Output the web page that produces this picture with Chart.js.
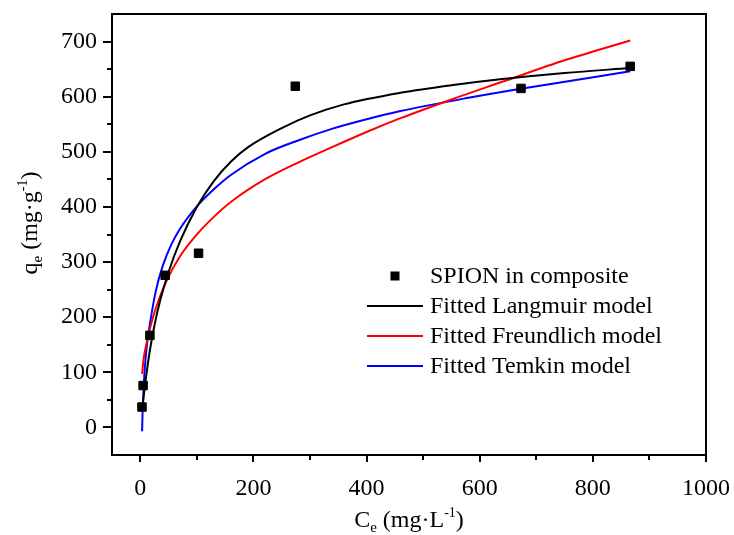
<!DOCTYPE html>
<html>
<head>
<meta charset="utf-8">
<script src="https://cdn.jsdelivr.net/npm/chart.js@4/dist/chart.umd.min.js"></script>
<style>
    html, body { margin: 0; padding: 0; background: #fff; }
    #wrap { width: 734px; height: 535px; }
</style>
</head>
<body>
<div id="wrap"><canvas id="isothermChart" width="734" height="535"></canvas></div>
<script>
// measured points (Ce, qe)
const expCe = [3, 5, 17, 44, 103, 274, 673, 866];
const expQe = [37, 76, 167, 276, 316, 619, 615, 655];

// fitted curves
const langmuirCe = [3, 5, 10, 17, 25, 35, 50, 70, 100, 130, 160, 190, 250, 300, 360, 460, 560, 640, 750, 866];
const langmuirQe = [30, 48, 90, 140, 185, 230, 282, 337, 400, 447, 482, 508, 543, 566, 586, 607, 622, 632, 643, 652];

const freundlichCe = [3.2, 6, 11, 18, 28, 46, 70, 100, 130, 160, 220, 280, 340, 400, 460, 550, 640, 750, 866];
const freundlichQe = [97, 125, 152, 183, 218, 265, 310, 350, 382, 409, 450, 481, 509, 536, 561, 595, 627, 666, 702];

const temkinCe = [3.2, 4, 5.5, 8, 12, 17, 28, 40, 55, 70, 100, 130, 160, 220, 280, 340, 400, 460, 580, 670, 866];
const temkinQe = [-7, 25, 62, 108, 152, 188, 250, 294, 332, 360, 401, 432, 458, 496, 521, 542, 559, 574, 598, 614, 646];

const xTickValues = [0, 200, 400, 600, 800, 1000];
const xMinorValues = [100, 300, 500, 700, 900];
const yTickValues = [0, 100, 200, 300, 400, 500, 600, 700];
const yMinorValues = [50, 150, 250, 350, 450, 550, 650];

const seriesLabels = ['SPION in composite', 'Fitted Langmuir model', 'Fitted Freundlich model', 'Fitted Temkin model'];
const seriesColors = ['#000000', '#000000', '#ff0000', '#0000ff'];

const FONT = '"Liberation Serif", "Times New Roman", serif';

function toXY(xs, ys) {
    return xs.map((x, i) => ({ x: x, y: ys[i] }));
}

function drawRich(ctx, parts, cx, cy) {
    let total = 0;
    parts.forEach(p => {
        ctx.font = p.size + 'px ' + FONT;
        p.w = ctx.measureText(p.t).width;
        total += p.w;
    });
    let x = cx - total / 2;
    ctx.textAlign = 'left';
    ctx.textBaseline = 'alphabetic';
    parts.forEach(p => {
        ctx.font = p.size + 'px ' + FONT;
        ctx.fillText(p.t, x, cy + (p.dy || 0));
        x += p.w;
    });
}

const framePlugin = {
    id: 'framePlugin',
    afterDraw(chart) {
        const ctx = chart.ctx;
        const a = chart.chartArea;
        const xs = chart.scales.x;
        const ys = chart.scales.y;
        ctx.save();
        ctx.strokeStyle = '#000';
        ctx.lineWidth = 2;
        ctx.strokeRect(a.left, a.top, a.right - a.left, a.bottom - a.top);

        // minor ticks
        ctx.beginPath();
        xMinorValues.forEach(v => {
            const px = Math.round(xs.getPixelForValue(v));
            ctx.moveTo(px, a.bottom);
            ctx.lineTo(px, a.bottom + 5);
        });
        yMinorValues.forEach(v => {
            const py = Math.round(ys.getPixelForValue(v));
            ctx.moveTo(a.left, py);
            ctx.lineTo(a.left - 5, py);
        });
        ctx.stroke();

        // legend
        const lx = 367, tx = 430;
        const rows = [276, 306, 336, 366];
        ctx.fillStyle = '#000';
        ctx.fillRect(395 - 4.5, rows[0] - 4.5, 9, 9);
        for (let i = 1; i < 4; i++) {
            ctx.strokeStyle = seriesColors[i];
            ctx.lineWidth = 2;
            ctx.beginPath();
            ctx.moveTo(lx, rows[i]);
            ctx.lineTo(423, rows[i]);
            ctx.stroke();
        }
        ctx.font = '24px ' + FONT;
        ctx.textAlign = 'left';
        ctx.textBaseline = 'middle';
        ctx.fillStyle = '#000';
        seriesLabels.forEach((t, i) => ctx.fillText(t, tx, rows[i] + 1));

        // axis titles
        drawRich(ctx, [
            { t: 'C', size: 24 },
            { t: 'e', size: 15, dy: 5 },
            { t: ' (mg·L', size: 24 },
            { t: '-1', size: 14, dy: -10 },
            { t: ')', size: 24 }
        ], (a.left + a.right) / 2, 527);

        ctx.translate(37, 223);
        ctx.rotate(-Math.PI / 2);
        drawRich(ctx, [
            { t: 'q', size: 24 },
            { t: 'e', size: 15, dy: 5 },
            { t: ' (mg·g', size: 24 },
            { t: '-1', size: 14, dy: -10 },
            { t: ')', size: 24 }
        ], 0, 0);
        ctx.restore();
    }
};

const curveStyle = {
    showLine: true,
    pointRadius: 0,
    borderWidth: 2,
    fill: false,
    cubicInterpolationMode: 'monotone'
};

new Chart(document.getElementById('isothermChart'), {
    type: 'scatter',
    data: {
        datasets: [
            {
                label: seriesLabels[0],
                data: toXY(expCe, expQe),
                pointStyle: 'rect',
                pointRadius: 6,
                borderWidth: 1,
                backgroundColor: '#000',
                borderColor: '#000',
                showLine: false
            },
            Object.assign({ label: seriesLabels[1], data: toXY(langmuirCe, langmuirQe), borderColor: seriesColors[1] }, curveStyle),
            Object.assign({ label: seriesLabels[2], data: toXY(freundlichCe, freundlichQe), borderColor: seriesColors[2] }, curveStyle),
            Object.assign({ label: seriesLabels[3], data: toXY(temkinCe, temkinQe), borderColor: seriesColors[3] }, curveStyle)
        ]
    },
    options: {
        responsive: false,
        animation: false,
        layout: { padding: { top: 14, right: 28, left: 0, bottom: 0 } },
        plugins: { legend: { display: false }, tooltip: { enabled: false } },
        scales: {
            x: {
                type: 'linear',
                min: -50,
                max: 1000,
                afterBuildTicks(scale) { scale.ticks = xTickValues.map(v => ({ value: v })); },
                afterFit(scale) {
                    scale.height = 80;
                    scale.paddingLeft = 0;
                    scale.paddingRight = 0;
                },
                grid: { drawOnChartArea: false, drawTicks: true, tickLength: 7, lineWidth: 2, color: '#000' },
                border: { display: false },
                ticks: {
                    color: '#000', padding: 12, maxRotation: 0,
                    font: { family: FONT, size: 24 },
                    callback: v => String(v)
                }
            },
            y: {
                type: 'linear',
                min: -50,
                max: 750,
                afterBuildTicks(scale) { scale.ticks = yTickValues.map(v => ({ value: v })); },
                afterFit(scale) {
                    scale.width = 112;
                    scale.paddingTop = 0;
                    scale.paddingBottom = 0;
                },
                grid: { drawOnChartArea: false, drawTicks: true, tickLength: 9, lineWidth: 2, color: '#000' },
                border: { display: false },
                ticks: {
                    color: '#000', padding: 6,
                    font: { family: FONT, size: 24 },
                    callback: v => String(v)
                }
            }
        }
    },
    plugins: [framePlugin]
});
</script>
</body>
</html>
